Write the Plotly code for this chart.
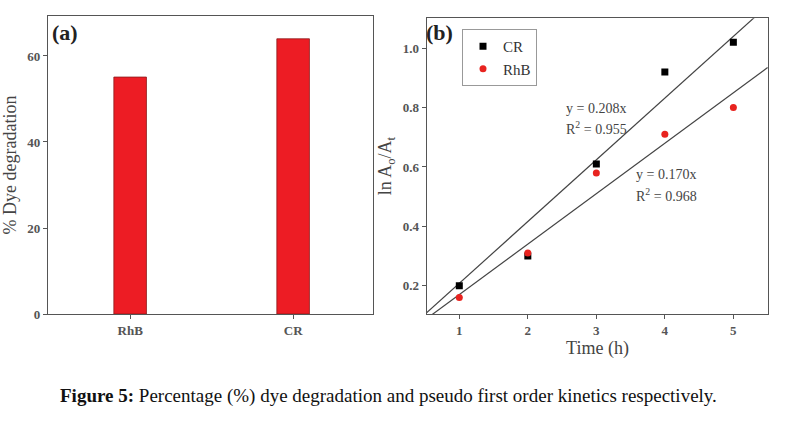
import plotly.graph_objects as go

# Panel (a) data
dyes = ["RhB", "CR"]
degradation = [55.1, 64.0]

# Panel (b) data
time_h = [1, 2, 3, 4, 5]
cr_ln = [0.20, 0.30, 0.61, 0.92, 1.02]
rhb_ln = [0.16, 0.31, 0.58, 0.71, 0.80]
cr_slope = 0.208
rhb_slope = 0.170
fit_x = [0.5, 5.5]

W, H = 790, 425
def px(x): return x / W
def py(y): return 1 - y / H

SERIF = "Times New Roman, Liberation Serif, serif"
AX = "#555555"

fig = go.Figure()
fig.add_trace(go.Bar(x=dyes, y=degradation, width=0.2, marker=dict(color="#ED1C24", line=dict(color="#8a1a1a", width=0.8)),
                     xaxis="x", yaxis="y", showlegend=False))

fig.add_trace(go.Scatter(x=fit_x, y=[cr_slope * v for v in fit_x], mode="lines", line=dict(color="#444444", width=1.2),
                         xaxis="x2", yaxis="y2", showlegend=False))
fig.add_trace(go.Scatter(x=fit_x, y=[rhb_slope * v for v in fit_x], mode="lines", line=dict(color="#444444", width=1.2),
                         xaxis="x2", yaxis="y2", showlegend=False))
fig.add_trace(go.Scatter(x=time_h, y=cr_ln, mode="markers", name="CR", marker=dict(symbol="square", color="black", size=7),
                         xaxis="x2", yaxis="y2"))
fig.add_trace(go.Scatter(x=time_h, y=rhb_ln, mode="markers", name="RhB", marker=dict(symbol="circle", color="#E8231F", size=7),
                         xaxis="x2", yaxis="y2"))

axis_common = dict(showline=True, linecolor=AX, linewidth=1.2, mirror=True, ticks="outside", ticklen=4,
                   tickcolor=AX, showgrid=False, zeroline=False, automargin=False,
                   tickfont=dict(family=SERIF, size=13, color="#555555", weight="bold"))

fig.update_layout(
    width=W, height=H, margin=dict(l=0, r=0, t=0, b=0, autoexpand=False),
    paper_bgcolor="white", plot_bgcolor="white",
    xaxis=dict(domain=[px(48), px(373)], range=[-0.504, 1.49], anchor="y", **axis_common),
    yaxis=dict(domain=[py(314), py(16)], range=[0, 69.3], anchor="x", tickvals=[0, 20, 40, 60],
               title=dict(text="% Dye degradation", font=dict(family=SERIF, size=18, color="#444444"), standoff=6),
               **axis_common),
    xaxis2=dict(domain=[px(426.7), px(768.3)], range=[0.524, 5.51], anchor="y2", tickvals=time_h,
                title=dict(text="Time (h)", font=dict(family=SERIF, size=18, color="#444444"), standoff=4),
                **axis_common),
    yaxis2=dict(domain=[py(314), py(18.3)], range=[0.1045, 1.101], anchor="x2", tickvals=[0.2, 0.4, 0.6, 0.8, 1.0],
                tickformat=".1f",
                title=dict(text="ln A<sub>o</sub>/A<sub>t</sub>", font=dict(family=SERIF, size=18, color="#444444"), standoff=6),
                **axis_common),
    legend=dict(x=px(462), y=py(29), xanchor="left", yanchor="top", bgcolor="white",
                bordercolor="#999999", borderwidth=1, font=dict(family=SERIF, size=15, color="#333333"),
                itemwidth=30, tracegroupgap=0),
    showlegend=True,
)

ann_font = dict(family=SERIF, size=14, color="#444444")
def note(x, y, text, font):
    fig.add_annotation(xref="paper", yref="paper", x=px(x), y=py(y), text=text, showarrow=False,
                       xanchor="left", yanchor="middle", font=font)

note(50, 33, "<b>(a)</b>", dict(family=SERIF, size=22, color="#222222"))
note(424, 33, "<b>(b)</b>", dict(family=SERIF, size=22, color="#222222"))
note(564, 108, "y = 0.208x", ann_font)
note(564, 128, "R<sup>2</sup> = 0.955", ann_font)
note(634, 174, "y = 0.170x", ann_font)
note(634, 195, "R<sup>2</sup> = 0.968", ann_font)
fig.add_annotation(xref="paper", yref="paper", x=px(388), y=py(396), showarrow=False, xanchor="center", yanchor="middle",
                   text="<b>Figure 5:</b> Percentage (%) dye degradation and pseudo first order kinetics respectively.",
                   font=dict(family=SERIF, size=19, color="#111111"))

fig.write_html("out.html", config={"displayModeBar": False},
               post_script="document.body.style.margin='0';document.body.style.padding='0';")
